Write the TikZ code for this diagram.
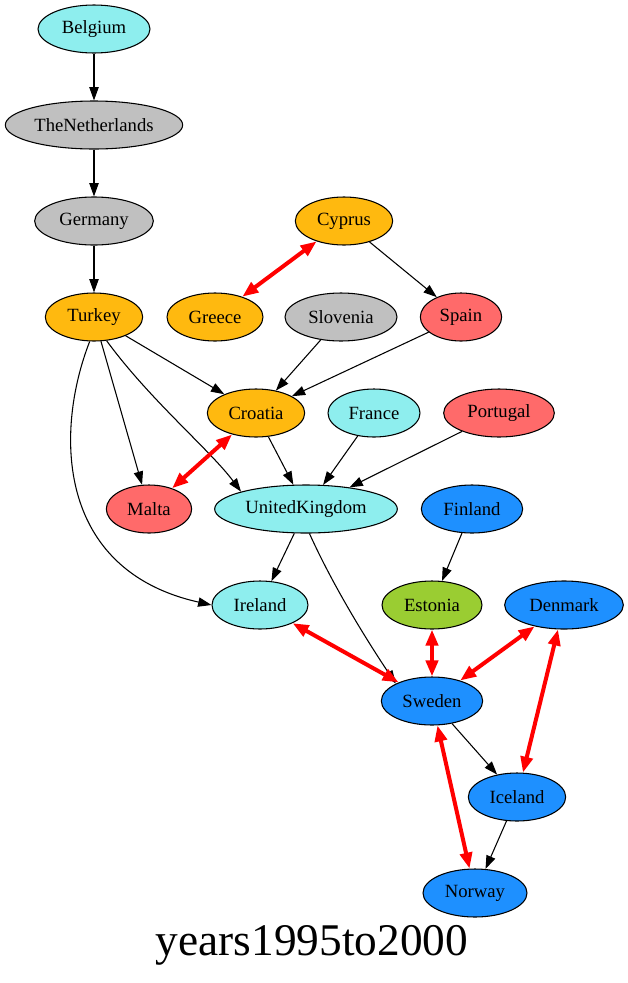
\documentclass[tikz,border=0pt]{standalone}
\usepackage{fontspec}
\setmainfont{Liberation Serif}
\usepackage{xcolor}
\usepackage{tikz}
\usetikzlibrary{shapes.geometric,arrows.meta}

\definecolor{paleblue}{RGB}{142,238,238}
\definecolor{palegrey}{RGB}{192,192,192}
\definecolor{gold}{RGB}{255,185,15}
\definecolor{salmon}{RGB}{255,106,106}
\definecolor{skyblue}{RGB}{30,144,255}
\definecolor{lime}{RGB}{154,205,50}

\begin{document}
\begin{tikzpicture}[x=0.75pt,y=-0.75pt,
  country/.style={ellipse, draw, line width=0.8pt, inner sep=0pt,
    minimum height=36pt, font=\fontsize{14}{16}\selectfont},
  link/.style={-{Triangle[length=10pt,width=7pt]}, line width=0.8pt},
  pair/.style={{Triangle[length=12pt,width=9pt]}-{Triangle[length=12pt,width=9pt]},
    red, line width=3pt}]
  \useasboundingbox (0,0) rectangle (628,983);
  % Countries
  \node[country, fill=paleblue, minimum width=84pt] (belgium) at (94,29) {Belgium};
  \node[country, fill=palegrey, minimum width=133pt] (netherlands) at (94,125) {TheNetherlands};
  \node[country, fill=palegrey, minimum width=89pt] (germany) at (94,221) {Germany};
  \node[country, fill=gold, minimum width=73pt] (turkey) at (94,317) {Turkey};
  \node[country, fill=gold, minimum width=73pt] (cyprus) at (344,221) {Cyprus};
  \node[country, fill=gold, minimum width=72pt] (greece) at (215,317) {Greece};
  \node[country, fill=palegrey, minimum width=84pt] (slovenia) at (341,317) {Slovenia};
  \node[country, fill=salmon, minimum width=61pt] (spain) at (461,317) {Spain};
  \node[country, fill=gold, minimum width=73pt] (croatia) at (256,413) {Croatia};
  \node[country, fill=paleblue, minimum width=69pt] (france) at (374,413) {France};
  \node[country, fill=salmon, minimum width=83pt] (portugal) at (499,413) {Portugal};
  \node[country, fill=salmon, minimum width=64pt] (malta) at (149,509) {Malta};
  \node[country, fill=paleblue, minimum width=137pt] (uk) at (306,509) {UnitedKingdom};
  \node[country, fill=skyblue, minimum width=76pt] (finland) at (472,509) {Finland};
  \node[country, fill=paleblue, minimum width=72pt] (ireland) at (260,605) {Ireland};
  \node[country, fill=lime, minimum width=75pt] (estonia) at (432,605) {Estonia};
  \node[country, fill=skyblue, minimum width=89pt] (denmark) at (564,605) {Denmark};
  \node[country, fill=skyblue, minimum width=76pt] (sweden) at (432,701) {Sweden};
  \node[country, fill=skyblue, minimum width=73pt] (iceland) at (517,797) {Iceland};
  \node[country, fill=skyblue, minimum width=78pt] (norway) at (475,893) {Norway};
  % Title
  \node[font=\fontsize{34}{40}\selectfont] (title) at (312,945) {years1995to2000};
  % Directed links
  \draw[link] (belgium) -- (netherlands);
  \draw[link] (netherlands) -- (germany);
  \draw[link] (germany) -- (turkey);
  \draw[link] (cyprus) -- (spain);
  \draw[link] (turkey) -- (croatia);
  \draw[link] (slovenia) -- (croatia);
  \draw[link] (spain) -- (croatia);
  \draw[link] (turkey) -- (malta);
  \draw[link] (turkey.-62) .. controls (150,400) and (210,450) .. (uk.north west);
  \draw[link] (turkey.-100) .. controls (55,430) and (55,570) .. (ireland.west);
  \draw[link] (croatia) -- (uk);
  \draw[link] (france) -- (uk);
  \draw[link] (portugal) -- (uk);
  \draw[link] (uk) -- (ireland);
  \draw[link] (uk.-82) .. controls (335,590) and (370,645) .. (sweden.north west);
  \draw[link] (finland) -- (estonia);
  \draw[link] (sweden) -- (iceland);
  \draw[link] (iceland) -- (norway);
  % Mutual links
  \draw[pair] (cyprus) -- (greece);
  \draw[pair] (croatia) -- (malta);
  \draw[pair] (ireland) -- (sweden);
  \draw[pair] (estonia) -- (sweden);
  \draw[pair] (denmark) -- (sweden);
  \draw[pair] (denmark) -- (iceland);
  \draw[pair] (sweden) -- (norway);
\end{tikzpicture}
\end{document}
